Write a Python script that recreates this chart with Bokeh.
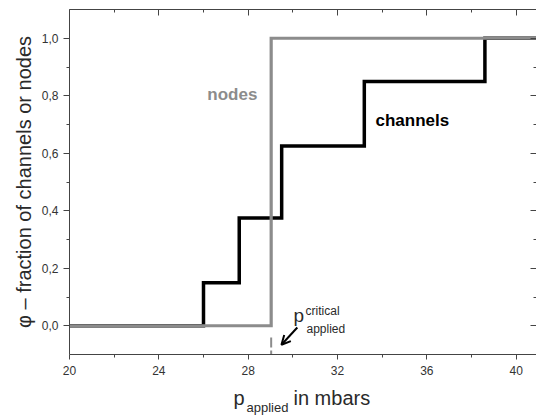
from bokeh.plotting import figure
from bokeh.layouts import column
from bokeh.models import (Range1d, LinearAxis, FixedTicker, CustomJSTickFormatter,
                          Label, Arrow, OpenHead)
from bokeh.embed import file_html
from bokeh.resources import INLINE

# ---- data ----
p_start = 20.0
p_end = 40.91
nodes_p = [p_start, 29.03, p_end]
nodes_phi = [0.0, 1.0, 1.0]
channels_p = [p_start, 26.0, 27.6, 29.5, 33.2, 38.6, p_end]
channels_phi = [0.0, 0.15, 0.375, 0.625, 0.85, 1.0, 1.0]
p_critical = 29.03

x_ticks = [20, 24, 28, 32, 36, 40]
x_minor = [22, 26, 30, 34, 38]
y_ticks = [0.0, 0.2, 0.4, 0.6, 0.8, 1.0]
y_minor = [0.1, 0.3, 0.5, 0.7, 0.9]

FONT = "Liberation Sans"
GREY = "#8c8c8c"
DARK = "#2a2a2a"
AXC = "#444444"

W = 536
H_MAIN = 382
H_TITLE = 37

p = figure(width=W, height=H_MAIN,
           x_range=Range1d(p_start, p_end), y_range=Range1d(-0.1, 1.1),
           output_backend="svg", toolbar_location=None,
           min_border_left=69, min_border_right=0,
           min_border_top=9, min_border_bottom=28)
p.xgrid.visible = False
p.ygrid.visible = False
p.outline_line_color = None
p.background_fill_color = "white"
p.border_fill_color = "white"

comma_fmt = CustomJSTickFormatter(code="return tick.toFixed(1).replace('.', ',');")
blank_fmt = CustomJSTickFormatter(code="return '';")

# left axis
ya = p.yaxis[0]
ya.ticker = FixedTicker(ticks=y_ticks, minor_ticks=y_minor)
ya.formatter = comma_fmt
ya.axis_line_color = AXC
ya.major_tick_line_color = AXC
ya.minor_tick_line_color = AXC
ya.major_tick_out = 6
ya.major_tick_in = 0
ya.minor_tick_out = 3
ya.minor_tick_in = 0
ya.major_label_text_font = FONT
ya.major_label_text_font_size = "12px"
ya.major_label_text_color = "#333333"
ya.major_label_standoff = 5
ya.axis_label = "φ – fraction of channels or nodes"
ya.axis_label_text_font = FONT
ya.axis_label_text_font_size = "20px"
ya.axis_label_text_font_style = "normal"
ya.axis_label_text_color = DARK
ya.axis_label_standoff = 4

# bottom axis
xa = p.xaxis[0]
xa.ticker = FixedTicker(ticks=x_ticks, minor_ticks=x_minor)
xa.axis_line_color = AXC
xa.major_tick_line_color = AXC
xa.minor_tick_line_color = AXC
xa.major_tick_out = 5
xa.major_tick_in = 0
xa.minor_tick_out = 3
xa.minor_tick_in = 0
xa.major_label_text_font = FONT
xa.major_label_text_font_size = "12px"
xa.major_label_text_color = "#333333"
xa.major_label_standoff = 6

# top and right axes: inward ticks only (right spine lies at the cropped edge)
ta = LinearAxis(ticker=FixedTicker(ticks=x_ticks, minor_ticks=x_minor),
                formatter=blank_fmt, major_label_text_font_size="0px",
                major_label_standoff=0, axis_line_color=AXC,
                major_tick_in=6, major_tick_out=0, minor_tick_in=3, minor_tick_out=0,
                major_tick_line_color=AXC, minor_tick_line_color=AXC)
p.add_layout(ta, "above")
ra = LinearAxis(ticker=FixedTicker(ticks=y_ticks, minor_ticks=y_minor),
                formatter=blank_fmt, major_label_text_font_size="0px",
                major_label_standoff=0, axis_line_color=None,
                major_tick_in=6, major_tick_out=0, minor_tick_in=3, minor_tick_out=0,
                major_tick_line_color=AXC, minor_tick_line_color=AXC)
p.add_layout(ra, "right")

# step lines
p.step(channels_p, channels_phi, mode="after", line_color="black",
       line_width=3.5, line_join="miter")
p.step(nodes_p, nodes_phi, mode="after", line_color=GREY,
       line_width=3.2, line_join="miter")

# dashed marker of the critical pressure below zero
p.segment(x0=[p_critical], y0=[-0.1], x1=[p_critical], y1=[-0.04],
          line_color=GREY, line_width=2, line_dash="4 3 10 100")

# arrow pointing to the critical pressure
p.add_layout(Arrow(end=OpenHead(size=9, line_width=2, line_color="black"),
                   x_start=30.2, y_start=-0.006, x_end=29.49, y_end=-0.066,
                   line_width=2, line_color="black"))

# series labels
p.add_layout(Label(x=26.17, y=0.803, text="nodes", text_font=FONT,
                   text_font_size="17px", text_font_style="bold",
                   text_color=GREY, text_baseline="alphabetic"))
p.add_layout(Label(x=33.70, y=0.713, text="channels", text_font=FONT,
                   text_font_size="17px", text_font_style="bold",
                   text_color="black", text_baseline="alphabetic"))

# p_applied^critical label
p.add_layout(Label(x=30.03, y=0.035, text="p", text_font=FONT,
                   text_font_size="19px", text_color=DARK, text_baseline="alphabetic"))
p.add_layout(Label(x=30.57, y=0.052, text="critical", text_font=FONT,
                   text_font_size="12px", text_color=DARK, text_baseline="alphabetic"))
p.add_layout(Label(x=30.61, y=-0.0104, text="applied", text_font=FONT,
                   text_font_size="12px", text_color=DARK, text_baseline="alphabetic"))

# ---- x axis title strip: p_applied in mbars ----
# (the column aligns this strip's frame with the main plot frame, left edge at 69px)
t = figure(width=W, height=H_TITLE, x_range=Range1d(0, W), y_range=Range1d(0, H_TITLE),
           output_backend="svg", toolbar_location=None,
           x_axis_location=None, y_axis_location=None,
           min_border_left=0, min_border_right=0, min_border_top=0, min_border_bottom=0)
t.xgrid.visible = False
t.ygrid.visible = False
t.outline_line_color = None
t.background_fill_color = "white"
t.border_fill_color = "white"
t.add_layout(Label(x=164, y=22, x_units="screen", y_units="screen", text="p",
                   text_font=FONT, text_font_size="20px", text_color=DARK,
                   text_baseline="alphabetic"))
t.add_layout(Label(x=177, y=12, x_units="screen", y_units="screen", text="applied",
                   text_font=FONT, text_font_size="13px", text_color=DARK,
                   text_baseline="alphabetic"))
t.add_layout(Label(x=224, y=22, x_units="screen", y_units="screen", text="in mbars",
                   text_font=FONT, text_font_size="20px", text_color=DARK,
                   text_baseline="alphabetic"))

layout = column(p, t, spacing=0)
open("out.html", "w").write(file_html(layout, INLINE))
